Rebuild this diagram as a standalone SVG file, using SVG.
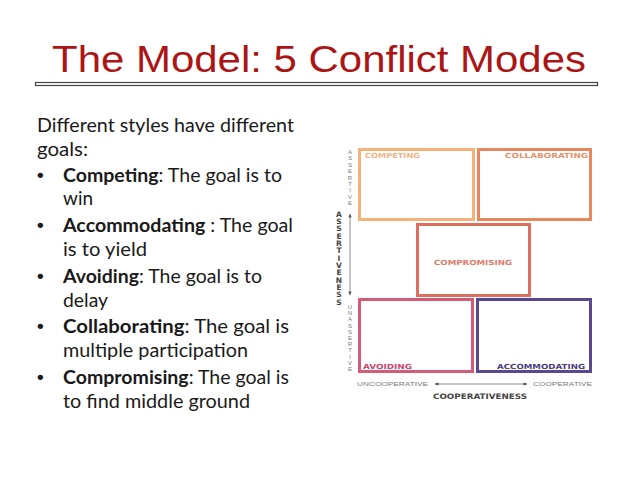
<svg xmlns="http://www.w3.org/2000/svg" width="638" height="479" viewBox="0 0 638 479">
<style>
.title{font-family:"Liberation Sans",Arial,sans-serif;font-size:37px;fill:#AC1515}
.body{font-family:Lato,"Liberation Sans",sans-serif;font-size:19.5px;fill:#1a1a1a}
.bul{font-family:"Liberation Sans",sans-serif;font-size:19px;font-weight:bold;fill:#1a1a1a}
.b{font-weight:bold}
.box{fill:#fff;stroke-width:3}
.lab{font-family:"DejaVu Sans","Liberation Sans",sans-serif;font-size:7px;font-weight:bold}
.ax{font-family:"Liberation Sans",sans-serif;font-size:6px;fill:#7a7a7a;text-anchor:middle}
.axs{font-family:"Liberation Sans",sans-serif;font-size:6px;fill:#7a7a7a}
.axb{font-family:"DejaVu Sans","Liberation Sans",sans-serif;font-size:7.5px;font-weight:bold;fill:#444}
.arr{stroke:#707070;stroke-width:0.8;fill:none}
</style>
<defs>
<marker id="ah" viewBox="0 0 10 10" refX="9" refY="5" markerWidth="5" markerHeight="5" orient="auto-start-reverse">
<path d="M0,1 L10,5 L0,9 z" fill="#555"/>
</marker>
</defs>
<rect width="638" height="479" fill="#fff"/>
<g id="title">
<text class="title" x="52" y="72" textLength="534" lengthAdjust="spacingAndGlyphs">The Model: 5 Conflict Modes</text>
<rect x="35.5" y="82.5" width="562" height="3" fill="#fff" stroke="#444" stroke-width="1.2"/>
</g>
<g id="bullets">
<g class="body">
<text x="37" y="132" textLength="257" lengthAdjust="spacingAndGlyphs">Different styles have different</text>
<text x="37" y="156" textLength="51" lengthAdjust="spacingAndGlyphs">goals:</text>
<text x="63" y="182" textLength="219" lengthAdjust="spacingAndGlyphs"><tspan class="b">Competing</tspan>: The goal is to</text>
<text x="63" y="205" textLength="30" lengthAdjust="spacingAndGlyphs">win</text>
<text x="63" y="232" textLength="230" lengthAdjust="spacingAndGlyphs"><tspan class="b">Accommodating</tspan> : The goal</text>
<text x="63" y="256" textLength="84" lengthAdjust="spacingAndGlyphs">is to yield</text>
<text x="63" y="283" textLength="199" lengthAdjust="spacingAndGlyphs"><tspan class="b">Avoiding</tspan>: The goal is to</text>
<text x="63" y="307" textLength="45" lengthAdjust="spacingAndGlyphs">delay</text>
<text x="63" y="333" textLength="226" lengthAdjust="spacingAndGlyphs"><tspan class="b">Collaborating</tspan>: The goal is</text>
<text x="63" y="357" textLength="185" lengthAdjust="spacingAndGlyphs">multiple participation</text>
<text x="63" y="384" textLength="226" lengthAdjust="spacingAndGlyphs"><tspan class="b">Compromising</tspan>: The goal is</text>
<text x="63" y="408" textLength="187" lengthAdjust="spacingAndGlyphs">to find middle ground</text>
</g>
<g class="bul">
<text x="37" y="181">•</text>
<text x="37" y="231">•</text>
<text x="37" y="282">•</text>
<text x="37" y="332">•</text>
<text x="37" y="383">•</text>
</g>
</g>
<g id="competing">
<rect class="box" x="359.5" y="149.5" width="114" height="70" stroke="#F2B27A"/>
<text class="lab" x="365" y="157.5" fill="#F0B482" textLength="55" lengthAdjust="spacingAndGlyphs">COMPETING</text>
</g>
<g id="collaborating">
<rect class="box" x="478.5" y="149.5" width="112" height="70" stroke="#E8875C"/>
<text class="lab" x="505" y="157.5" fill="#E2946F" textLength="83" lengthAdjust="spacingAndGlyphs">COLLABORATING</text>
</g>
<g id="compromising">
<rect class="box" x="417.5" y="224.5" width="112" height="71" stroke="#E06E5C"/>
<text class="lab" x="434" y="264.5" fill="#E07A68" textLength="78" lengthAdjust="spacingAndGlyphs">COMPROMISING</text>
</g>
<g id="avoiding">
<rect class="box" x="359.5" y="299.5" width="113" height="72" stroke="#D25C78"/>
<text class="lab" x="363" y="368.5" fill="#C9466E" textLength="49" lengthAdjust="spacingAndGlyphs">AVOIDING</text>
</g>
<g id="accommodating">
<rect class="box" x="477.5" y="299.5" width="113" height="72" stroke="#5B4790"/>
<text class="lab" x="497" y="368.5" fill="#4B3A85" textLength="88" lengthAdjust="spacingAndGlyphs">ACCOMMODATING</text>
</g>
<g id="axis-labels">
<text class="ax" x="350 350 350 350 350 350 350 350 350" y="154 160.4 166.8 173.2 179.6 186 192.4 198.8 205.2">ASSERTIVE</text>
<text class="axb" text-anchor="middle" x="339 339 339 339 339 339 339 339 339 339 339 339 339" y="216.7 224 231.3 238.7 246 253.3 260.7 268 275.3 282.7 290 297.3 304.7">ASSERTIVENESS</text>
<text class="ax" x="350 350 350 350 350 350 350 350 350 350 350" y="309 315.2 321.4 327.6 333.8 340 346.2 352.4 358.6 364.8 371">UNASSERTIVE</text>
<text class="axs" x="357" y="386" textLength="71" lengthAdjust="spacingAndGlyphs">UNCOOPERATIVE</text>
<text class="axs" x="533" y="386" textLength="59" lengthAdjust="spacingAndGlyphs">COOPERATIVE</text>
<text class="axb" x="433" y="398.5" textLength="94" lengthAdjust="spacingAndGlyphs">COOPERATIVENESS</text>
</g>
<g id="connectors">
<line class="arr" x1="350" y1="295" x2="350" y2="214" marker-start="url(#ah)" marker-end="url(#ah)"/>
<line class="arr" x1="527" y1="384" x2="435" y2="384" marker-start="url(#ah)" marker-end="url(#ah)"/>
</g>
</svg>
